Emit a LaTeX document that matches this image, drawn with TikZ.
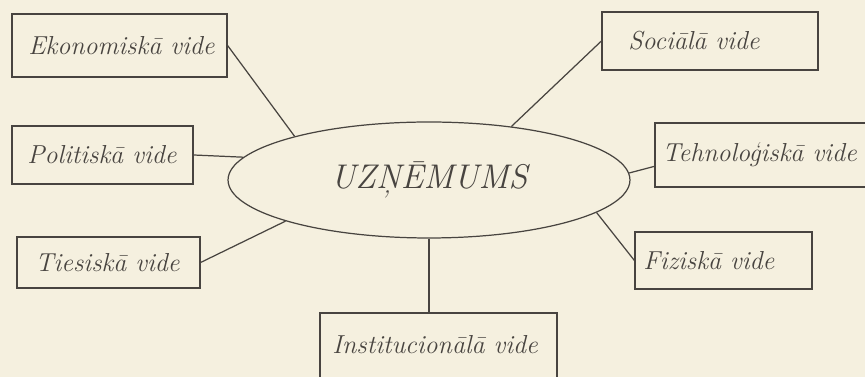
\documentclass[tikz,border=0pt]{standalone}
\usetikzlibrary{shapes.geometric,positioning}
\definecolor{paper}{RGB}{245,240,223}
\definecolor{ink}{RGB}{72,68,64}
\tikzset{
  envbox/.style={draw=ink, line width=0.7pt, inner sep=0pt},
  envtext/.style={anchor=west, inner sep=0pt, text=ink, font=\fontsize{14.8}{17}\selectfont\itshape},
  link/.style={draw=ink, line width=0.7pt}
}
\begin{document}
\begin{tikzpicture}[x=0.02cm, y=-0.02cm]
    \useasboundingbox (0,0) rectangle (865,377);
    \fill[paper] (0,0) rectangle (865,377);
    \clip (0,0) rectangle (865,377);

    % centre
    \node[ellipse, draw=ink, line width=0.7pt, minimum width=8.04cm, minimum height=2.32cm, inner sep=0pt,
          text=ink, font=\fontsize{19.5}{23}\selectfont\itshape] (firm) at (429,180) {UZŅĒMUMS};

    % boxes
    \node[envbox, minimum width=4.3cm, minimum height=1.26cm] (eko) at (119.5,45.5) {};
    \node[envbox, minimum width=4.32cm, minimum height=1.16cm] (soc) at (710,41) {};
    \node[envbox, minimum width=3.62cm, minimum height=1.16cm] (pol) at (102.5,155) {};
    \node[envbox, minimum width=4.3cm, minimum height=1.28cm] (teh) at (762.5,155) {};
    \node[envbox, minimum width=3.66cm, minimum height=1.02cm] (ties) at (108.5,262.5) {};
    \node[envbox, minimum width=3.54cm, minimum height=1.14cm] (fiz) at (723.5,260.5) {};
    \node[envbox, minimum width=4.74cm, minimum height=1.72cm] (inst) at (438.5,356) {};

    % texts
    \node[envtext] (ekot) at (28,45.5) {Ekonomiskā vide};
    \node[envtext] (soct) at (628,41) {Sociālā vide};
    \node[envtext] (polt) at (27,155) {Politiskā vide};
    \node[envtext] (teht) at (662,155) {Tehnoloģiskā vide};
    \node[envtext] (tiest) at (35,262.5) {Tiesiskā vide};
    \node[envtext] (fizt) at (643,260.5) {Fiziskā vide};
    \node[envtext] (instt) at (332,345) {Institucionālā vide};

    % links
    \draw[link] (eko.east) -- (firm.162.8);
    \draw[link] (soc.west) -- (firm.33.5);
    \draw[link] (pol.east) -- (firm.173.3);
    \draw[link] (teh.186) -- (firm.2.8);
    \draw[link] (ties.east) -- (firm.196.2);
    \draw[link] (fiz.west) -- (firm.349.6);
    \draw[link] (firm.south) -- (firm.south |- inst.north);
\end{tikzpicture}
\end{document}
